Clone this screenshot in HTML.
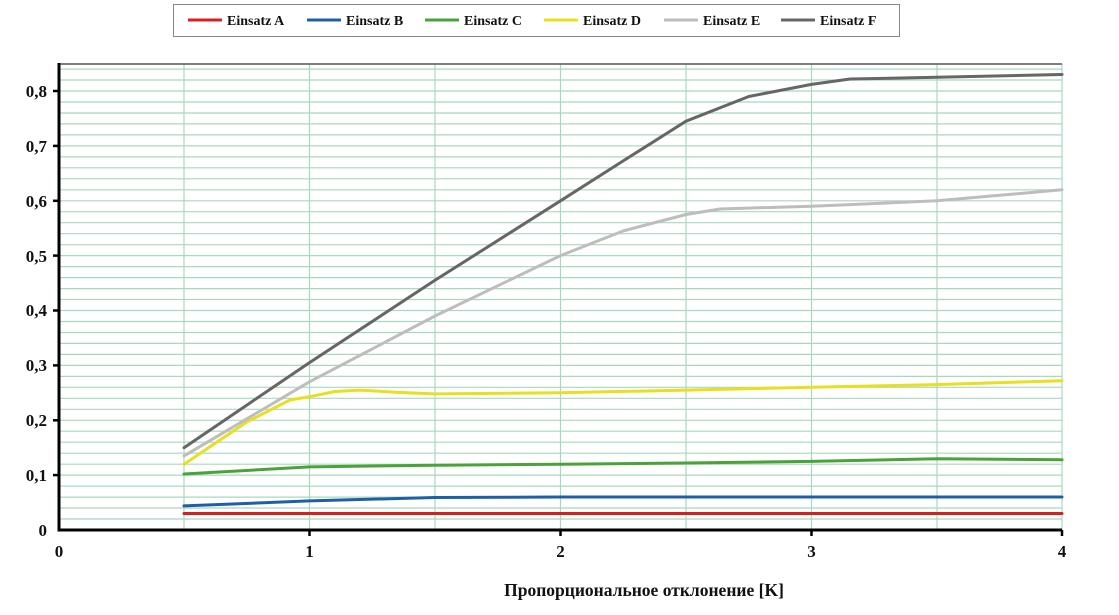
<!DOCTYPE html>
<html><head><meta charset="utf-8"><style>body{margin:0;background:#fff}svg{display:block}</style></head><body>
<svg width="1119" height="615" xmlns="http://www.w3.org/2000/svg" font-family="Liberation Serif, serif">
<g stroke="#a8d8be" stroke-width="1.2">
<line x1="59" x2="1062" y1="519.0" y2="519.0"/><line x1="59" x2="1062" y1="508.0" y2="508.0"/><line x1="59" x2="1062" y1="497.1" y2="497.1"/><line x1="59" x2="1062" y1="486.1" y2="486.1"/><line x1="59" x2="1062" y1="475.1" y2="475.1"/><line x1="59" x2="1062" y1="464.2" y2="464.2"/><line x1="59" x2="1062" y1="453.2" y2="453.2"/><line x1="59" x2="1062" y1="442.2" y2="442.2"/><line x1="59" x2="1062" y1="431.2" y2="431.2"/><line x1="59" x2="1062" y1="420.3" y2="420.3"/><line x1="59" x2="1062" y1="409.3" y2="409.3"/><line x1="59" x2="1062" y1="398.3" y2="398.3"/><line x1="59" x2="1062" y1="387.3" y2="387.3"/><line x1="59" x2="1062" y1="376.4" y2="376.4"/><line x1="59" x2="1062" y1="365.4" y2="365.4"/><line x1="59" x2="1062" y1="354.4" y2="354.4"/><line x1="59" x2="1062" y1="343.4" y2="343.4"/><line x1="59" x2="1062" y1="332.5" y2="332.5"/><line x1="59" x2="1062" y1="321.5" y2="321.5"/><line x1="59" x2="1062" y1="310.5" y2="310.5"/><line x1="59" x2="1062" y1="299.5" y2="299.5"/><line x1="59" x2="1062" y1="288.6" y2="288.6"/><line x1="59" x2="1062" y1="277.6" y2="277.6"/><line x1="59" x2="1062" y1="266.6" y2="266.6"/><line x1="59" x2="1062" y1="255.6" y2="255.6"/><line x1="59" x2="1062" y1="244.7" y2="244.7"/><line x1="59" x2="1062" y1="233.7" y2="233.7"/><line x1="59" x2="1062" y1="222.7" y2="222.7"/><line x1="59" x2="1062" y1="211.7" y2="211.7"/><line x1="59" x2="1062" y1="200.8" y2="200.8"/><line x1="59" x2="1062" y1="189.8" y2="189.8"/><line x1="59" x2="1062" y1="178.8" y2="178.8"/><line x1="59" x2="1062" y1="167.8" y2="167.8"/><line x1="59" x2="1062" y1="156.9" y2="156.9"/><line x1="59" x2="1062" y1="145.9" y2="145.9"/><line x1="59" x2="1062" y1="134.9" y2="134.9"/><line x1="59" x2="1062" y1="123.9" y2="123.9"/><line x1="59" x2="1062" y1="113.0" y2="113.0"/><line x1="59" x2="1062" y1="102.0" y2="102.0"/><line x1="59" x2="1062" y1="91.0" y2="91.0"/><line x1="59" x2="1062" y1="80.0" y2="80.0"/><line x1="59" x2="1062" y1="69.1" y2="69.1"/>
<line y1="64" y2="530" x1="184" x2="184"/><line y1="64" y2="530" x1="309.5" x2="309.5"/><line y1="64" y2="530" x1="435" x2="435"/><line y1="64" y2="530" x1="560.5" x2="560.5"/><line y1="64" y2="530" x1="686" x2="686"/><line y1="64" y2="530" x1="811.5" x2="811.5"/><line y1="64" y2="530" x1="937" x2="937"/><line y1="64" y2="530" x1="1062" x2="1062"/>
</g>
<line x1="59" x2="1062" y1="64" y2="64" stroke="#555" stroke-width="1.5"/>
<g fill="none" stroke-width="3" stroke-linejoin="round" stroke-linecap="round">
<polyline stroke="#d42020" points="184,513.5 1062,513.5"/>
<polyline stroke="#1f5fa8" points="184,505.9 309.5,500.9 435,497.5 560.5,497 1062,497"/>
<polyline stroke="#4aa33a" points="184,474 309.5,466.9 435,465.2 560.5,464.2 686,463 811.5,461.4 937,458.7 1062,459.8"/>
<polyline stroke="#e6e021" points="184,464.2 246.75,422 290,400 309.5,396.7 335,391.5 359.9,390.1 400,392.5 435,393.9 560.5,392.8 686,390.1 811.5,387.3 937,384.6 1062,380.7"/>
<polyline stroke="#bdbdbd" points="184,455.9 309.5,381.8 435,316 560.5,255.6 623,231 686,214.5 720,209 811.5,206.2 937,200.8 1062,189.8"/>
<polyline stroke="#666" points="184,447.7 309.5,362.6 435,280.3 560.5,200.8 623,161 686,121.2 748.75,96.5 811.5,84.4 850,79 937,77.3 1062,74.5"/>
</g>
<g stroke="#000" stroke-width="3"><line x1="59" y1="63" x2="59" y2="531.5"/><line x1="57.5" y1="530" x2="1062" y2="530"/></g>
<g stroke="#000" stroke-width="2.5">
<line x1="53" x2="59" y1="475.1" y2="475.1"/><line x1="53" x2="59" y1="420.3" y2="420.3"/><line x1="53" x2="59" y1="365.4" y2="365.4"/><line x1="53" x2="59" y1="310.5" y2="310.5"/><line x1="53" x2="59" y1="255.6" y2="255.6"/><line x1="53" x2="59" y1="200.8" y2="200.8"/><line x1="53" x2="59" y1="145.9" y2="145.9"/><line x1="53" x2="59" y1="91" y2="91"/>
<line x1="309.5" x2="309.5" y1="530" y2="536"/><line x1="560.5" x2="560.5" y1="530" y2="536"/><line x1="811.5" x2="811.5" y1="530" y2="536"/><line x1="1062" x2="1062" y1="530" y2="536"/>
</g>
<g font-size="17" font-weight="bold" text-anchor="end" fill="#111">
<text x="47" y="536">0</text><text x="47" y="481">0,1</text><text x="47" y="426">0,2</text><text x="47" y="371">0,3</text><text x="47" y="316">0,4</text><text x="47" y="262">0,5</text><text x="47" y="207">0,6</text><text x="47" y="152">0,7</text><text x="47" y="97">0,8</text>
</g>
<g font-size="17" font-weight="bold" text-anchor="middle" fill="#111">
<text x="59" y="557">0</text><text x="309.5" y="557">1</text><text x="560.5" y="557">2</text><text x="811.5" y="557">3</text><text x="1062" y="557">4</text>
<text x="644" y="596" font-size="17.5">Пропорциональное отклонение [K]</text>
</g>
<rect x="173.5" y="4.5" width="726" height="32" fill="#fff" stroke="#888"/>
<g stroke-width="3">
<line x1="188" x2="222" y1="20" y2="20" stroke="#d42020"/><line x1="307" x2="341" y1="20" y2="20" stroke="#1f5fa8"/><line x1="425" x2="459" y1="20" y2="20" stroke="#4aa33a"/><line x1="544" x2="578" y1="20" y2="20" stroke="#e6e021"/><line x1="664" x2="698" y1="20" y2="20" stroke="#bdbdbd"/><line x1="781" x2="815" y1="20" y2="20" stroke="#666"/>
</g>
<g font-size="14" font-weight="bold" fill="#111">
<text x="227" y="25">Einsatz A</text><text x="346" y="25">Einsatz B</text><text x="464" y="25">Einsatz C</text><text x="583" y="25">Einsatz D</text><text x="703" y="25">Einsatz E</text><text x="820" y="25">Einsatz F</text>
</g>
</svg>
</body></html>
